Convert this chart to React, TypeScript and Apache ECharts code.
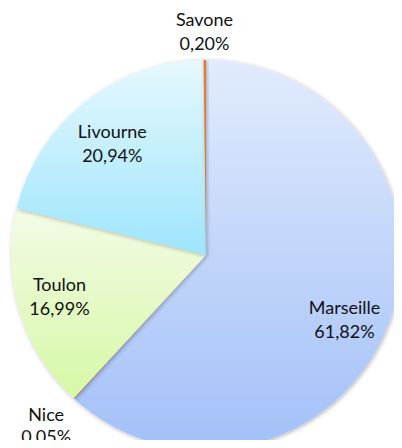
import React, { useEffect, useRef } from "react";
import * as echarts from "echarts";

const names = ["Marseille", "Nice", "Toulon", "Livourne", "Savone"];
const shares = [61.82, 0.05, 16.99, 20.94, 0.2];
const topColors = ["#e1ebfc", "#e8735a", "#f3fbe6", "#e6f8fd", "#e47b35"];
const bottomColors = ["#a2c0f8", "#d85a45", "#d6f8a6", "#9de5fc", "#e07630"];
const insideLabelled = ["Marseille", "Toulon", "Livourne"];
const outsideLabelled = ["Nice", "Savone"];

const fmt = (v: number) => v.toFixed(2).replace(".", ",") + "%";

// small nudges to match the label placement of the original
const labelOffset: Record<string, number[]> = {
  Marseille: [-5, 8],
  Livourne: [2, 9],
  Toulon: [1, -3],
  Nice: [-2, -1],
  Savone: [0, 9],
};
const labelLineHeight: Record<string, number> = {
  Marseille: 24,
  Livourne: 24,
  Toulon: 24,
  Nice: 22,
  Savone: 24,
};

export default function App() {
  const ref = useRef<HTMLDivElement>(null);
  useEffect(() => {
    if (!ref.current) return;
    const chart = echarts.init(ref.current, undefined, { renderer: "svg" });
    const center = [206, 255];
    const labelStyle = {
      color: "#111",
      fontFamily: "Lato",
      fontSize: 18,
      formatter: (p: any) => p.name + "\n" + fmt(p.value),
    };
    const baseData = names.map((n, i) => ({
      name: n,
      value: shares[i],
      itemStyle: {
        color: new echarts.graphic.LinearGradient(0, 0, 0, 1, [
          { offset: 0, color: topColors[i] },
          { offset: 1, color: bottomColors[i] },
        ]),
      },
    }));
    const labelData = (show: string[]) =>
      names.map((n, i) => ({
        name: n,
        value: shares[i],
        label: {
          show: show.includes(n),
          offset: labelOffset[n],
          lineHeight: labelLineHeight[n],
        },
      }));
    chart.setOption({
      animation: false,
      series: [
        {
          type: "pie",
          center,
          radius: [0, 195],
          startAngle: 90,
          clockwise: true,
          silent: true,
          label: { show: false },
          labelLine: { show: false },
          itemStyle: {
            borderWidth: 0,
            shadowBlur: 4,
            shadowColor: "rgba(0,0,0,0.3)",
            shadowOffsetX: 1,
            shadowOffsetY: 1,
          },
          data: baseData,
        },
        {
          type: "pie",
          center,
          radius: [0, 302],
          startAngle: 90,
          clockwise: true,
          silent: true,
          itemStyle: { color: "rgba(0,0,0,0)" },
          label: { position: "inside", ...labelStyle },
          labelLine: { show: false },
          data: labelData(insideLabelled),
        },
        {
          type: "pie",
          center,
          radius: [0, 460],
          startAngle: 90,
          clockwise: true,
          silent: true,
          itemStyle: { color: "rgba(0,0,0,0)" },
          label: { position: "inside", ...labelStyle },
          labelLine: { show: false },
          data: labelData(outsideLabelled),
        },
      ],
    });
    return () => chart.dispose();
  }, []);
  return <div ref={ref} style={{ width: 402, height: 448, margin: -8 }} />;
}
